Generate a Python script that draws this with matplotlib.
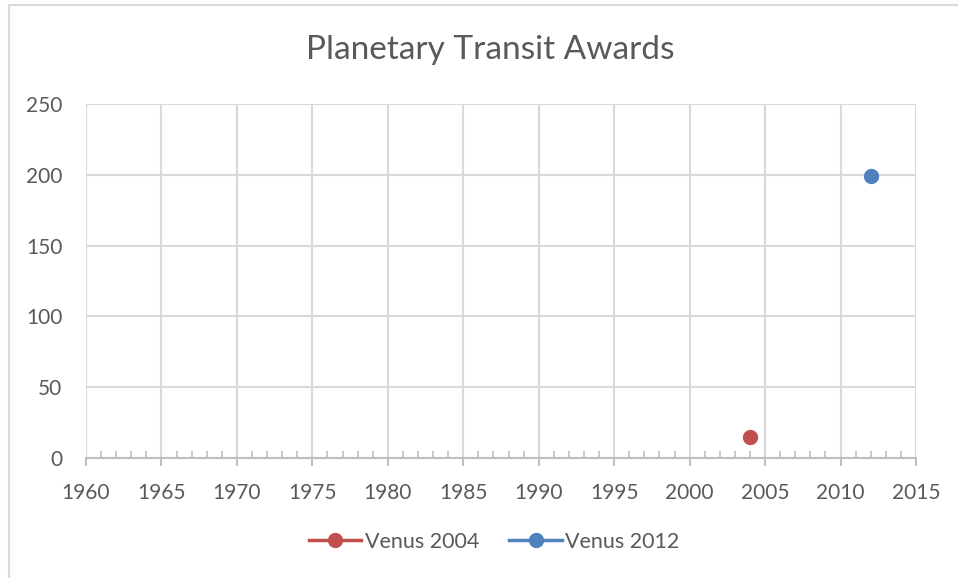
import matplotlib.pyplot as plt
from matplotlib.patches import Rectangle
from matplotlib.ticker import MultipleLocator

plt.rcParams['font.family'] = ['Lato', 'DejaVu Sans']

series_names = ["Venus 2004", "Venus 2012"]
series_years = [[2004], [2012]]
series_values = [[15], [199]]
series_colors = ["#C0504D", "#4F81BD"]

text_color = "#595959"
grid_color = "#D9D9D9"
axis_color = "#BFBFBF"

fig = plt.figure(figsize=(9.58, 5.78), dpi=100)
fig.patches.append(Rectangle((9 / 958, -0.1), 1.2, 1 - 5 / 578 + 0.1,
                             transform=fig.transFigure, fill=False,
                             edgecolor=grid_color, linewidth=1.5))

ax = fig.add_axes([86 / 958, 1 - 458 / 578, 830 / 958, 354 / 578])

for name, xs, ys, col in zip(series_names, series_years, series_values,
                             series_colors):
    ax.plot(xs, ys, color=col, marker="o", markersize=10, linewidth=2.5,
            label=name, zorder=3, clip_on=False)

ax.set_xlim(1960, 2015)
ax.set_ylim(0, 250)
ax.xaxis.set_major_locator(MultipleLocator(5))
ax.xaxis.set_minor_locator(MultipleLocator(1))
ax.yaxis.set_major_locator(MultipleLocator(50))

ax.grid(True, which="major", color=grid_color, linewidth=1.5)
ax.set_axisbelow(True)

for side in ["top", "right", "left"]:
    ax.spines[side].set_visible(False)
ax.spines["bottom"].set_color(axis_color)
ax.spines["bottom"].set_linewidth(1.5)

ax.tick_params(axis="x", which="major", direction="out", length=6,
               width=1.5, color=axis_color, labelsize=15,
               labelcolor=text_color, pad=12)
ax.tick_params(axis="x", which="minor", direction="in", length=5,
               width=1.2, color=axis_color)
ax.tick_params(axis="y", length=0, labelsize=15, labelcolor=text_color,
               pad=17)

fig.text(490 / 958, 1 - 50 / 578, "Planetary Transit Awards", ha="center",
         va="center", fontsize=24, color=text_color)

fig.legend(loc="center", bbox_to_anchor=(494 / 958, 1 - 542 / 578),
           ncol=2, frameon=False, fontsize=15.5, labelcolor=text_color,
           handlelength=2.45, handletextpad=0.15, columnspacing=1.4)

fig.savefig("out.png", dpi=100)
